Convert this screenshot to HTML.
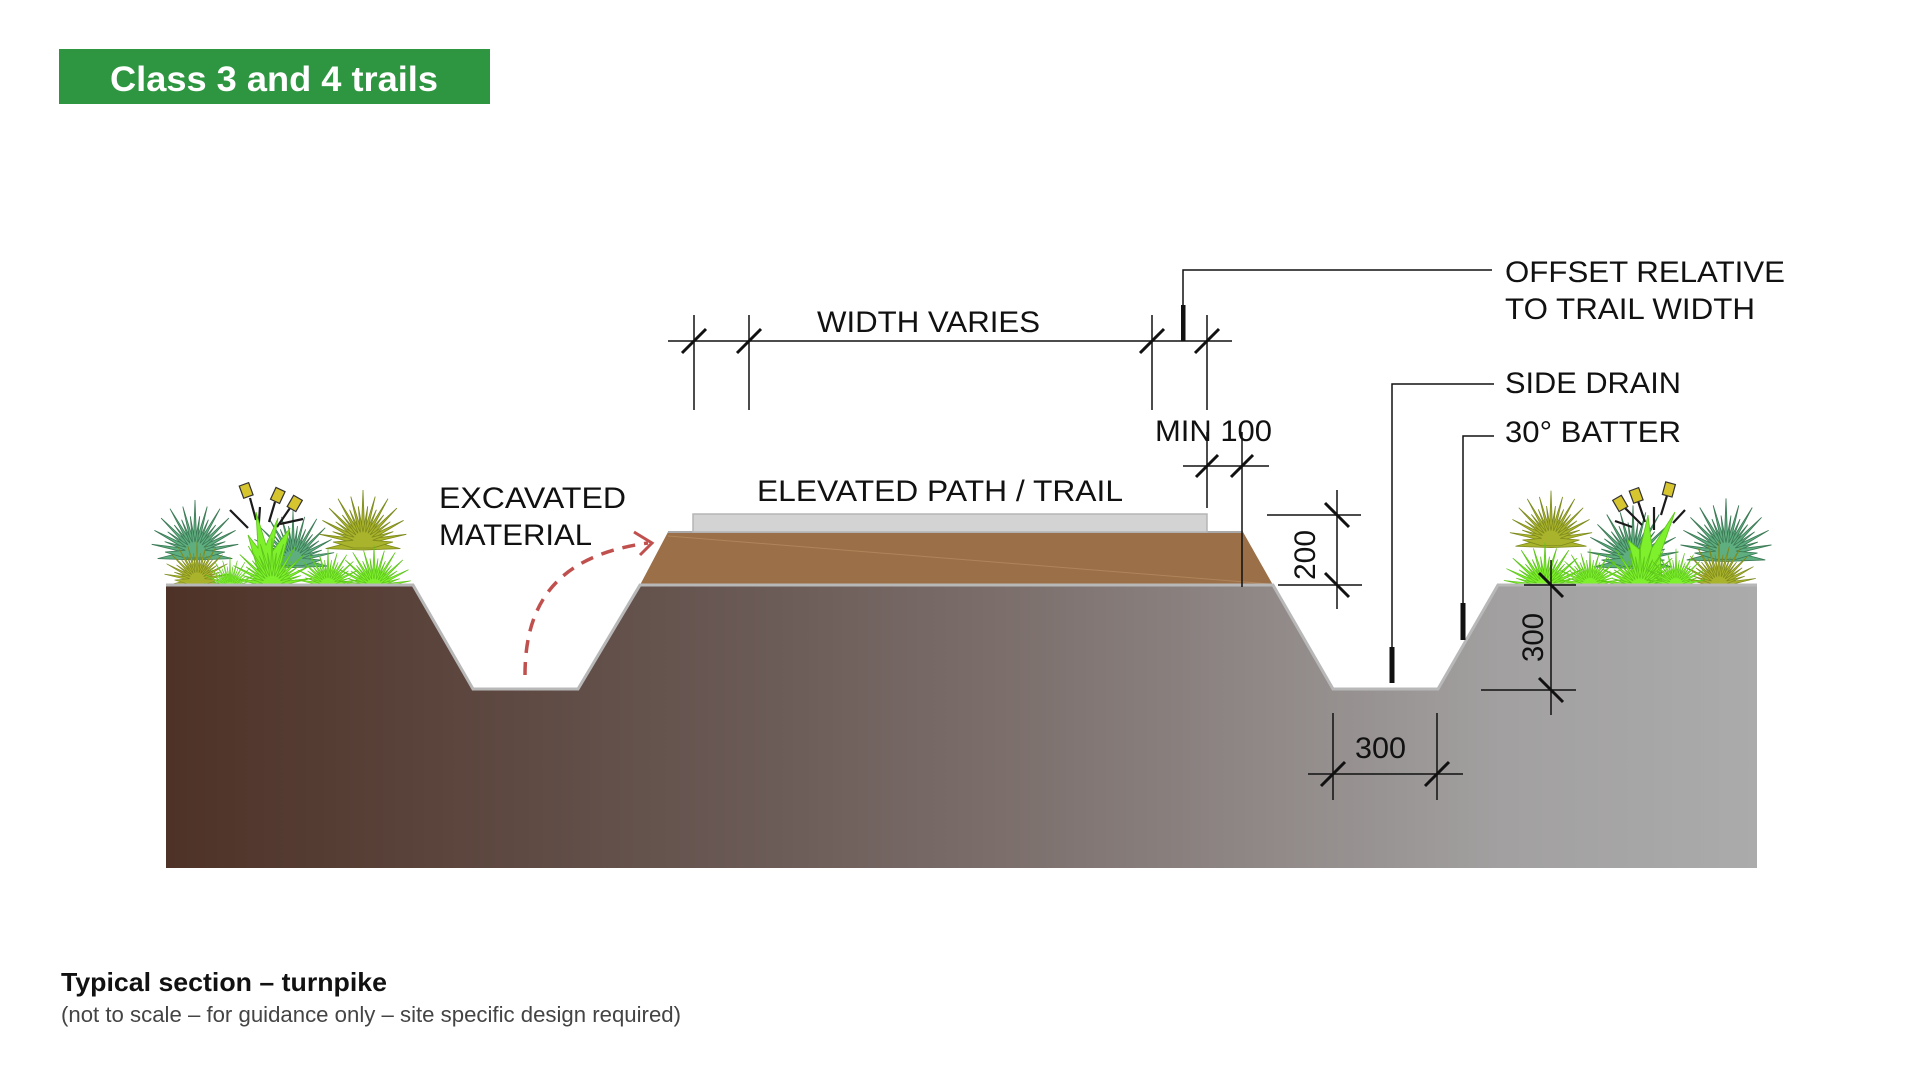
<!DOCTYPE html>
<html><head><meta charset="utf-8"><style>
html,body{margin:0;padding:0;background:#fff;width:1920px;height:1080px;overflow:hidden}
svg{display:block}
.t{font-family:"Liberation Sans",Arial,sans-serif;font-size:30px;fill:#111}
</style></head><body>
<svg width="1920" height="1080" viewBox="0 0 1920 1080" xmlns="http://www.w3.org/2000/svg" xmlns:xlink="http://www.w3.org/1999/xlink">
<defs>
<linearGradient id="gg" x1="166" y1="0" x2="1757" y2="0" gradientUnits="userSpaceOnUse">
<stop offset="0" stop-color="#4e3227"/>
<stop offset="0.336" stop-color="#675651"/>
<stop offset="0.524" stop-color="#7b6e6b"/>
<stop offset="0.70" stop-color="#918a89"/>
<stop offset="0.84" stop-color="#a2a0a0"/>
<stop offset="1" stop-color="#ababab"/>
</linearGradient>
<g id="pl">
<path d="M0,8 L-37.4,6.6 L-12,0 L-43.3,-7.7 L-11.3,-3.9 L-40.6,-21.6 L-9.6,-7.1 L-33.9,-33.9 L-7.3,-9.5 L-25,-43.3 L-4.6,-11.1 L-12.2,-45.4 L-1.6,-11.9 L0,-52 L1.6,-11.9 L12.2,-45.4 L4.6,-11.1 L25,-43.3 L7.3,-9.5 L33.9,-33.9 L9.6,-7.1 L40.6,-21.6 L11.3,-3.9 L43.3,-7.7 L12,0 L37.4,6.6 Z"/>
<path d="M-10,6 L-30,0 L-9.8,-1.7 L-30.3,-10.4 L-8.8,-4.7 L-27.3,-20.2 L-7.1,-7.1 L-20.7,-27 L-5,-8.7 L-13.4,-32.3 L-2.6,-9.7 L-4.7,-35.7 L0,-10 L4.7,-35.7 L2.6,-9.7 L13.4,-32.3 L5,-8.7 L20.7,-27 L7.1,-7.1 L27.3,-20.2 L8.8,-4.7 L30.3,-10.4 L9.8,-1.7 L30,0 L10,6 Z"/>
</g>
</defs>

<!-- Title -->
<rect x="59" y="49" width="431" height="55" fill="#2e9641"/>
<text x="110" y="91" font-family="Liberation Sans, Arial, sans-serif" font-weight="bold" font-size="35" fill="#fff" textLength="328" lengthAdjust="spacingAndGlyphs">Class 3 and 4 trails</text>

<!-- Left plants -->
<use xlink:href="#pl" transform="translate(195,552) scale(1.0)" fill="#5fae80" stroke="#3b7a55" stroke-width="0.8"/>
<use xlink:href="#pl" transform="translate(293,560) scale(0.95)" fill="#5fae80" stroke="#3b7a55" stroke-width="0.8"/>
<use xlink:href="#pl" transform="translate(363,542) scale(1.0)" fill="#a9b32b" stroke="#7d8a1c" stroke-width="0.8"/>
<use xlink:href="#pl" transform="translate(197,580) scale(0.75)" fill="#a9b32b" stroke="#7d8a1c" stroke-width="0.8"/>
<g stroke="#1a1a1a" stroke-width="2.2">
<line x1="250" y1="498" x2="256" y2="520"/>
<line x1="275" y1="502" x2="269" y2="522"/>
<line x1="290" y1="508" x2="277" y2="527"/>
<line x1="230" y1="510" x2="248" y2="528"/>
<line x1="260" y1="507" x2="258" y2="535"/>
<line x1="280" y1="524" x2="303" y2="519"/>
</g>
<path d="M262,585 L248,535 L258,548 L256,512 L266,545 L278,518 L272,552 L290,528 L276,585 Z" fill="#7ef02c" stroke="#5cc41a" stroke-width="0.8"/>
<use xlink:href="#pl" transform="translate(272,585) scale(0.95,0.9)" fill="#7ef02c" stroke="#5cc41a" stroke-width="0.8"/>
<use xlink:href="#pl" transform="translate(328,585) scale(0.75,0.7)" fill="#7ef02c" stroke="#5cc41a" stroke-width="0.8"/>
<use xlink:href="#pl" transform="translate(374,587) scale(0.85,0.8)" fill="#7ef02c" stroke="#5cc41a" stroke-width="0.8"/>
<use xlink:href="#pl" transform="translate(230,588) scale(0.6,0.6)" fill="#7ef02c" stroke="#5cc41a" stroke-width="0.8"/>
<g fill="#d6c52e" stroke="#333" stroke-width="1.2">
<rect x="241" y="484" width="10" height="13" transform="rotate(-20 246 490)"/>
<rect x="273" y="489" width="10" height="13" transform="rotate(25 278 495)"/>
<rect x="290" y="497" width="10" height="13" transform="rotate(30 295 503)"/>
</g>

<!-- Right plants -->
<use xlink:href="#pl" transform="translate(1726,553) scale(1.05)" fill="#5fae80" stroke="#3b7a55" stroke-width="0.8"/>
<use xlink:href="#pl" transform="translate(1633,560) scale(1.05)" fill="#5fae80" stroke="#3b7a55" stroke-width="0.8"/>
<use xlink:href="#pl" transform="translate(1551,540) scale(0.95)" fill="#a9b32b" stroke="#7d8a1c" stroke-width="0.8"/>
<use xlink:href="#pl" transform="translate(1719,585) scale(0.85)" fill="#a9b32b" stroke="#7d8a1c" stroke-width="0.8"/>
<g stroke="#1a1a1a" stroke-width="2.2">
<line x1="1620" y1="503" x2="1642" y2="525"/>
<line x1="1636" y1="495" x2="1645" y2="522"/>
<line x1="1669" y1="489" x2="1661" y2="515"/>
<line x1="1654" y1="507" x2="1654" y2="530"/>
<line x1="1615" y1="521" x2="1632" y2="527"/>
<line x1="1685" y1="510" x2="1673" y2="523"/>
</g>
<path d="M1640,585 L1628,540 L1640,550 L1648,515 L1652,548 L1675,512 L1660,555 L1662,585 Z" fill="#7ef02c" stroke="#5cc41a" stroke-width="0.8"/>
<use xlink:href="#pl" transform="translate(1545,587) scale(0.95,0.85)" fill="#7ef02c" stroke="#5cc41a" stroke-width="0.8"/>
<use xlink:href="#pl" transform="translate(1590,585) scale(0.75,0.7)" fill="#7ef02c" stroke="#5cc41a" stroke-width="0.8"/>
<use xlink:href="#pl" transform="translate(1640,587) scale(0.95,0.85)" fill="#7ef02c" stroke="#5cc41a" stroke-width="0.8"/>
<use xlink:href="#pl" transform="translate(1676,585) scale(0.7,0.7)" fill="#7ef02c" stroke="#5cc41a" stroke-width="0.8"/>
<g fill="#d6c52e" stroke="#333" stroke-width="1.2">
<rect x="1615" y="497" width="10" height="13" transform="rotate(-30 1620 503)"/>
<rect x="1631" y="489" width="10" height="13" transform="rotate(-20 1636 495)"/>
<rect x="1664" y="483" width="10" height="13" transform="rotate(15 1669 489)"/>
</g>

<!-- Ground -->
<polygon points="166,585 413,585 473,689 578,689 640,585 1273,585 1333,689 1438,689 1498,585 1757,585 1757,868 166,868" fill="url(#gg)"/>
<polyline points="166,585 413,585 473,689 578,689 640,585 1273,585 1333,689 1438,689 1498,585 1757,585" fill="none" stroke="#b8b8b8" stroke-width="3"/>

<!-- Elevated path -->
<polygon points="640,585 668,532 1243,532 1273,585" fill="#9b6f47"/>
<line x1="668" y1="536" x2="1270" y2="584" stroke="#c49a70" stroke-width="1" opacity="0.5"/>
<line x1="640" y1="585" x2="1273" y2="585" stroke="#b8b8b8" stroke-width="3"/>
<line x1="668" y1="532" x2="1243" y2="532" stroke="#a9a9a9" stroke-width="2"/>
<rect x="693" y="514" width="514" height="18" fill="#d3d3d3" stroke="#b5b5b5" stroke-width="1.5"/>

<!-- Red dashed arrow -->
<path d="M525,675 C525,600 560,555 648,543" fill="none" stroke="#c0504d" stroke-width="3.5" stroke-dasharray="13,9"/>
<polyline points="634,532 652,543 640,555" fill="none" stroke="#c0504d" stroke-width="3"/>

<!-- Dimension lines -->
<g stroke="#111" stroke-width="1.5" fill="none">
<line x1="668" y1="341" x2="1232" y2="341"/>
<line x1="694" y1="315" x2="694" y2="410"/>
<line x1="749" y1="315" x2="749" y2="410"/>
<line x1="1152" y1="315" x2="1152" y2="410"/>
<line x1="1207" y1="315" x2="1207" y2="410"/>
<polyline points="1183,305 1183,270 1492,270"/>
<line x1="1183" y1="466" x2="1269" y2="466"/>
<line x1="1207" y1="432" x2="1207" y2="508"/>
<line x1="1242" y1="432" x2="1242" y2="587"/>
<line x1="1337" y1="490" x2="1337" y2="609"/>
<line x1="1267" y1="515" x2="1361" y2="515"/>
<line x1="1278" y1="585" x2="1362" y2="585"/>
<line x1="1551" y1="560" x2="1551" y2="715"/>
<line x1="1524" y1="585" x2="1576" y2="585"/>
<line x1="1481" y1="690" x2="1576" y2="690"/>
<line x1="1333" y1="713" x2="1333" y2="800"/>
<line x1="1437" y1="713" x2="1437" y2="800"/>
<line x1="1308" y1="774" x2="1463" y2="774"/>
<polyline points="1494,384 1392,384 1392,648"/>
<polyline points="1494,436 1463,436 1463,604"/>
</g>
<g stroke="#111" stroke-width="3">
<line x1="682" y1="353" x2="706" y2="329"/>
<line x1="737" y1="353" x2="761" y2="329"/>
<line x1="1140" y1="353" x2="1164" y2="329"/>
<line x1="1195" y1="353" x2="1219" y2="329"/>
<line x1="1196" y1="477" x2="1218" y2="455"/>
<line x1="1231" y1="477" x2="1253" y2="455"/>
<line x1="1325" y1="503" x2="1349" y2="527"/>
<line x1="1325" y1="573" x2="1349" y2="597"/>
<line x1="1539" y1="573" x2="1563" y2="597"/>
<line x1="1539" y1="678" x2="1563" y2="702"/>
<line x1="1321" y1="786" x2="1345" y2="762"/>
<line x1="1425" y1="786" x2="1449" y2="762"/>
</g>
<g fill="#111">
<rect x="1181" y="305" width="4.5" height="36"/>
<rect x="1389.5" y="647" width="5" height="36"/>
<rect x="1460.5" y="603" width="5" height="37"/>
</g>

<!-- Labels -->
<text class="t" x="817" y="332" textLength="223" lengthAdjust="spacingAndGlyphs">WIDTH VARIES</text>
<text class="t" x="757" y="501" textLength="366" lengthAdjust="spacingAndGlyphs">ELEVATED PATH / TRAIL</text>
<text class="t" x="439" y="508" textLength="187" lengthAdjust="spacingAndGlyphs">EXCAVATED</text>
<text class="t" x="439" y="545" textLength="153" lengthAdjust="spacingAndGlyphs">MATERIAL</text>
<text class="t" x="1155" y="441" textLength="117" lengthAdjust="spacingAndGlyphs">MIN 100</text>
<text class="t" x="1505" y="282" textLength="280" lengthAdjust="spacingAndGlyphs">OFFSET RELATIVE</text>
<text class="t" x="1505" y="319" textLength="250" lengthAdjust="spacingAndGlyphs">TO TRAIL WIDTH</text>
<text class="t" x="1505" y="393" textLength="176" lengthAdjust="spacingAndGlyphs">SIDE DRAIN</text>
<text class="t" x="1505" y="442" textLength="176" lengthAdjust="spacingAndGlyphs">30° BATTER</text>
<text class="t" transform="translate(1315,580) rotate(-90)" x="0" y="0" textLength="50" lengthAdjust="spacingAndGlyphs">200</text>
<text class="t" transform="translate(1543,662) rotate(-90)" x="0" y="0" textLength="49" lengthAdjust="spacingAndGlyphs">300</text>
<text class="t" x="1355" y="758" textLength="51" lengthAdjust="spacingAndGlyphs">300</text>

<!-- Captions -->
<text x="61" y="991" font-family="Liberation Sans, Arial, sans-serif" font-weight="bold" font-size="26" fill="#111" textLength="326" lengthAdjust="spacingAndGlyphs">Typical section – turnpike</text>
<text x="61" y="1022" font-family="Liberation Sans, Arial, sans-serif" font-size="22" fill="#444" textLength="620" lengthAdjust="spacingAndGlyphs">(not to scale – for guidance only – site specific design required)</text>
</svg>
</body></html>
